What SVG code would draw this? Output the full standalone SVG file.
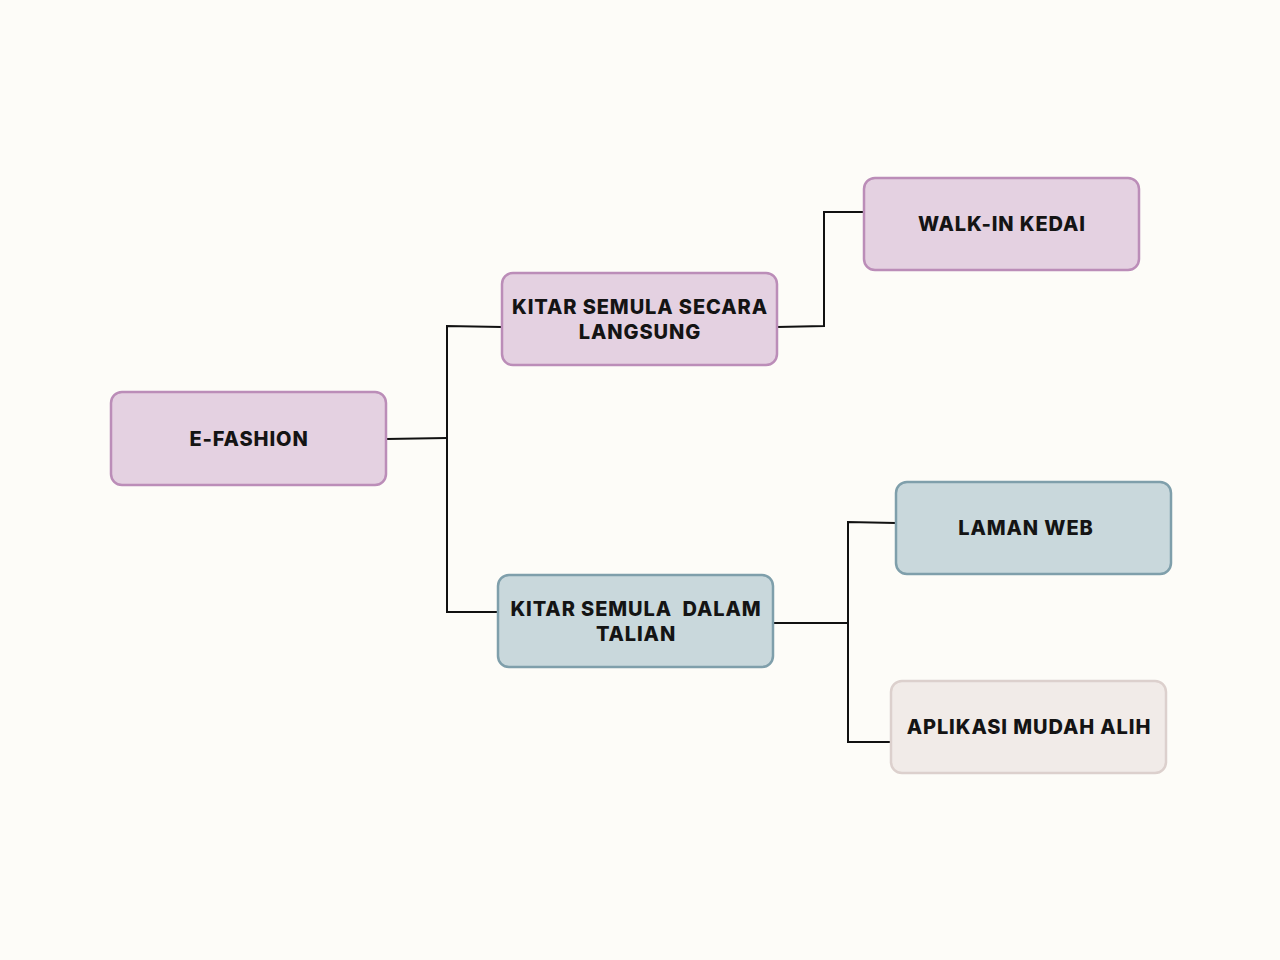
<svg xmlns="http://www.w3.org/2000/svg" width="1280" height="960" viewBox="0 0 1280 960">
<style>
.pink{fill:#e4d1e1;stroke:#bb8db8;stroke-width:2.5}
.blue{fill:#c9d8dc;stroke:#7f9fab;stroke-width:2.5}
.light{fill:#f1ebe8;stroke:#dcd0cd;stroke-width:2.5}
.t{font-family:Inter,"Open Sans","Liberation Sans",sans-serif;font-weight:800;font-size:20px;fill:#141414;text-anchor:middle;letter-spacing:0.9px}
.c{fill:none;stroke:#111;stroke-width:2}
</style>
<rect width="1280" height="960" fill="#fdfcf8"/>
<g id="connectors">
<polyline class="c" points="386,439 447,438"/>
<polyline class="c" points="502,327 447,326 447,612 498,612"/>
<polyline class="c" points="777,327 824,326 824,212 864,212"/>
<polyline class="c" points="773,623 848,623"/>
<polyline class="c" points="896,523 848,522 848,742 891,742"/>
</g>
<g id="e-fashion">
<rect class="pink" x="111" y="392" width="275" height="93" rx="11"/>
<text class="t" x="249" y="446">E-FASHION</text>
</g>
<g id="kitar-langsung">
<rect class="pink" x="502" y="273" width="275" height="92" rx="11"/>
<text class="t" x="640" y="314">KITAR SEMULA SECARA</text>
<text class="t" x="640" y="339">LANGSUNG</text>
</g>
<g id="walk-in">
<rect class="pink" x="864" y="178" width="275" height="92" rx="11"/>
<text class="t" x="1002" y="231">WALK-IN KEDAI</text>
</g>
<g id="kitar-talian">
<rect class="blue" x="498" y="575" width="275" height="92" rx="11"/>
<text class="t" x="636" y="616" xml:space="preserve">KITAR SEMULA  DALAM</text>
<text class="t" x="636" y="641">TALIAN</text>
</g>
<g id="laman-web">
<rect class="blue" x="896" y="482" width="275" height="92" rx="11"/>
<text class="t" x="1026" y="535">LAMAN WEB</text>
</g>
<g id="aplikasi">
<rect class="light" x="891" y="681" width="275" height="92" rx="11"/>
<text class="t" x="1029" y="734">APLIKASI MUDAH ALIH</text>
</g>
</svg>
